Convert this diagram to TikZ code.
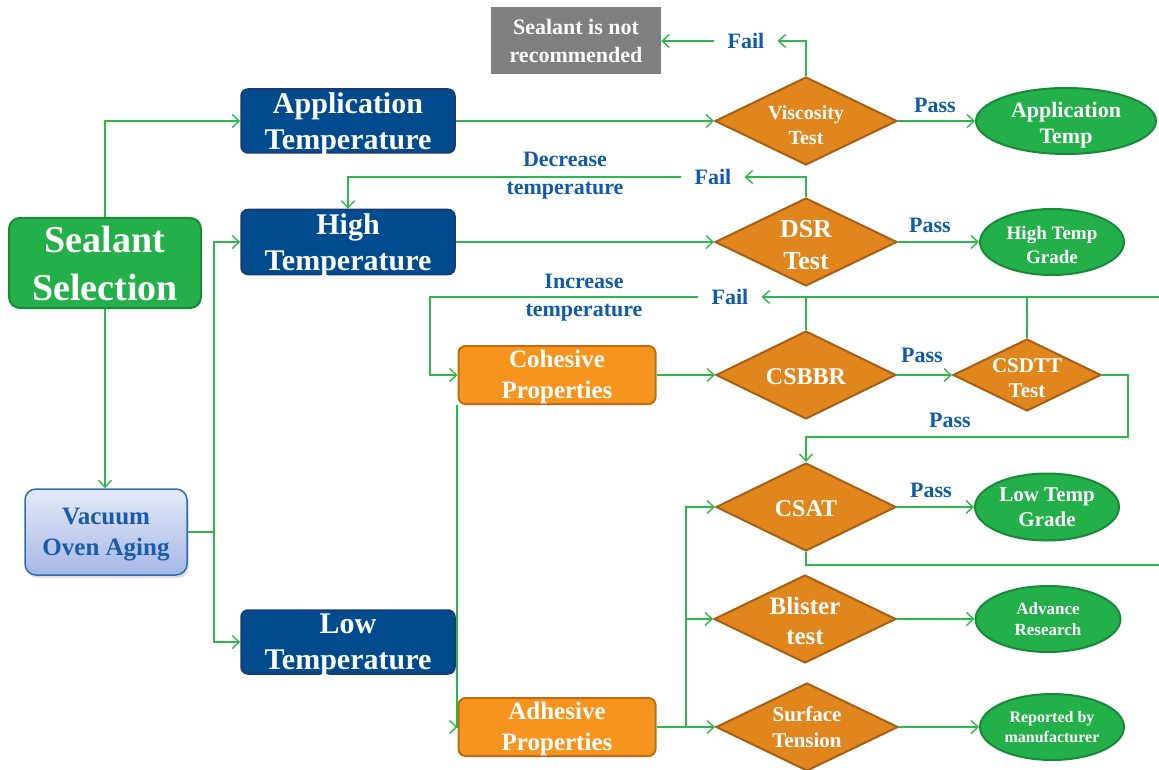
\documentclass[tikz,border=0pt]{standalone}
\usepackage{fontspec}
\setmainfont{Liberation Serif}
\usetikzlibrary{shapes.geometric,arrows.meta,shadows}

\definecolor{tblue}{HTML}{004B8D}
\definecolor{tblueD}{HTML}{1B3A6B}
\definecolor{tgreen}{HTML}{23B04B}
\definecolor{tgreenD}{HTML}{178A38}
\definecolor{borange}{HTML}{F7941E}
\definecolor{borangeD}{HTML}{C36B12}
\definecolor{dorange}{HTML}{E0861C}
\definecolor{dorangeD}{HTML}{A65F14}
\definecolor{lgreen}{HTML}{2DB84B}
\definecolor{lblue}{HTML}{105AAA}
\definecolor{vtop}{HTML}{E4EAF8}
\definecolor{vbot}{HTML}{A6B7E6}
\definecolor{vborder}{HTML}{2F6BB0}
\definecolor{vtext}{HTML}{1A5CA8}
\definecolor{ngray}{HTML}{7F7F7F}

\newcommand{\fsz}[2]{\fontsize{#1}{#2}\selectfont\bfseries}

\tikzset{
  conn/.style={draw=lgreen, line width=1.4pt},
  arr/.style={conn, -{Straight Barb[length=7pt,width=13pt,line width=1.4pt]}},
  box/.style={rectangle, rounded corners=7pt, align=center, inner sep=0pt, text=white},
  bluebox/.style={box, fill=tblue, draw=tblueD, line width=1.5pt,
    minimum width=214, minimum height=64, text depth=-2pt, font=\fsz{30}{36}},
  orangebox/.style={box, fill=borange, draw=borangeD, line width=2pt,
    minimum width=197, minimum height=58, text depth=1pt, font=\fsz{25}{31}},
  dia/.style={diamond, fill=dorange, draw=dorangeD, line width=2pt, inner sep=0pt,
    minimum width=182, minimum height=88},
  ell/.style={ellipse, fill=tgreen, draw=tgreenD, line width=2pt, inner sep=0pt},
  intext/.style={text=white, align=center, inner sep=0pt},
  lab/.style={text=lblue, font=\fsz{22}{28}, inner xsep=13pt, inner ysep=2pt, align=center},
}

\begin{document}
\begin{tikzpicture}[x=1pt,y=-1pt]
\useasboundingbox (0,0) rectangle (1159,770);

% ---- start and ageing
\node[box, rounded corners=11pt, fill=tgreen, draw=tgreenD, line width=2pt,
  minimum width=192, minimum height=90, text depth=-6pt, font=\fsz{38}{48}] (sel) at (105,263) {Sealant\\Selection};
\node[box, rounded corners=11pt, top color=vtop, bottom color=vbot, draw=vborder, line width=1.5pt,
  minimum width=162, minimum height=86, text=vtext, text depth=-3pt, font=\fsz{25}{31},
  drop shadow={opacity=0.25, shadow xshift=2pt, shadow yshift=-3pt}] (vac) at (106,532) {Vacuum\\Oven Aging};

% ---- temperature branches
\node[bluebox] (appT) at (348,121) {Application\\Temperature};
\node[bluebox, minimum height=65] (highT) at (348,242) {High\\Temperature};
\node[bluebox] (lowT) at (348,642) {Low\\Temperature};

\node[rectangle, fill=ngray, minimum width=170, minimum height=67, inner sep=0pt,
  text=white, align=center, font=\fsz{22}{28}] (notrec) at (576,41) {Sealant is not\\recommended};

\node[orangebox] (coh) at (557,375) {Cohesive\\Properties};
\node[orangebox] (adh) at (557,727) {Adhesive\\Properties};

% ---- tests
\node[dia, label={[intext, yshift=-4pt, font=\fsz{20}{25}]center:Viscosity\\Test}] (visc) at (806,121) {};
\node[dia, label={[intext, yshift=-3pt, font=\fsz{26}{32}]center:DSR\\Test}] (dsr) at (806,242) {};
\node[dia, minimum width=180, label={[intext, yshift=-2pt, font=\fsz{24}{30}]center:CSBBR}] (csbbr) at (806,375) {};
\node[dia, minimum width=148, minimum height=72, label={[intext, yshift=-3pt, font=\fsz{21}{25}]center:CSDTT\\Test}] (csdtt) at (1027,375) {};
\node[dia, minimum width=180, label={[intext, yshift=-2pt, font=\fsz{24}{30}]center:CSAT}] (csat) at (806,507) {};
\node[dia, label={[intext, yshift=-2pt, font=\fsz{25}{30}]center:Blister\\test}] (blis) at (805,619) {};
\node[dia, label={[intext, font=\fsz{21}{26}]center:Surface\\Tension}] (surf) at (807,727) {};

% ---- results
\node[ell, minimum width=180, minimum height=66, label={[intext, yshift=-4pt, font=\fsz{22}{26}]center:Application\\Temp}] (appTemp) at (1066,121) {};
\node[ell, minimum width=144, minimum height=66, label={[intext, yshift=-3pt, font=\fsz{19}{24}]center:High Temp\\Grade}] (hiGrade) at (1052,242) {};
\node[ell, minimum width=144, minimum height=67, label={[intext, font=\fsz{21}{25}]center:Low Temp\\Grade}] (loGrade) at (1047,507) {};
\node[ell, minimum width=145, minimum height=66, label={[intext, font=\fsz{17}{21}]center:Advance\\Research}] (advRes) at (1048,619) {};
\node[ell, minimum width=144, minimum height=66, label={[intext, font=\fsz{16}{20}]center:Reported by\\manufacturer}] (repMan) at (1052,727) {};

% ---- connector labels
\node[lab] (fail1) at (746,41) {Fail};
\node[lab] (fail2) at (713,177) {Fail};
\node[lab] (fail3) at (730,297) {Fail};
\node[lab] (pass1) at (935,105) {Pass};
\node[lab] (pass2) at (930,225) {Pass};
\node[lab] (pass3) at (922,355) {Pass};
\node[lab] (pass4) at (950,420) {Pass};
\node[lab] (pass5) at (931,490) {Pass};
\node[lab] (decr) at (565,176) {Decrease\\temperature};
\node[lab] (incr) at (584,298) {Increase\\temperature};

% ---- junctions and loose ends
\coordinate (jV) at (214,532);
\coordinate (jL) at (457,642);
\coordinate (jA) at (686,727);
\coordinate (jI) at (430,375);
\coordinate (jD) at (1128,437);
\coordinate (rFail) at (1159,297);
\coordinate (rCsat) at (1159,565);

% ---- connectors
\draw[arr] (sel.north) |- (appT.west);
\draw[arr] (sel.south) -- (sel.south |- vac.north);
\draw[conn] (vac.east) -- (jV);
\draw[arr] (jV) |- (highT.west);
\draw[arr] (jV) |- (lowT.west);

\draw[arr] (appT.east) -- (visc.west);
\draw[arr] (highT.east) -- (dsr.west);
\draw[arr] (visc.east) -- (appTemp.west);
\draw[arr] (dsr.east) -- (hiGrade.west);

\draw[arr] (visc.north) |- (fail1.east);
\draw[arr] (fail1.west) -- (notrec.east);
\draw[arr] (dsr.north) |- (fail2.east);
\draw[arr] (fail2.west) -| (highT.north);

\draw[arr] (rFail) -- (fail3.east);
\draw[conn] (csbbr.north) -- (csbbr.north |- rFail);
\draw[conn] (csdtt.north) -- (csdtt.north |- rFail);
\draw[arr] (fail3.west) -| (jI) -- (coh.west);

\draw[arr] (coh.east) -- (csbbr.west);
\draw[arr] (csbbr.east) -- (csdtt.west);
\draw[arr] (csdtt.east) -| (jD) -| (csat.north);
\draw[arr] (csat.east) -- (loGrade.west);
\draw[conn] (csat.south) |- (rCsat);

\draw[conn] (lowT.east) -- (jL) -- (jL |- coh.south);
\draw[arr] (jL) |- (adh.west);

\draw[conn] (adh.east) -- (jA);
\draw[arr] (jA) |- (csat.west);
\draw[arr] (jA) |- (blis.west);
\draw[arr] (jA) -- (surf.west);
\draw[arr] (blis.east) -- (advRes.west);
\draw[arr] (surf.east) -- (repMan.west);
\end{tikzpicture}
\end{document}
